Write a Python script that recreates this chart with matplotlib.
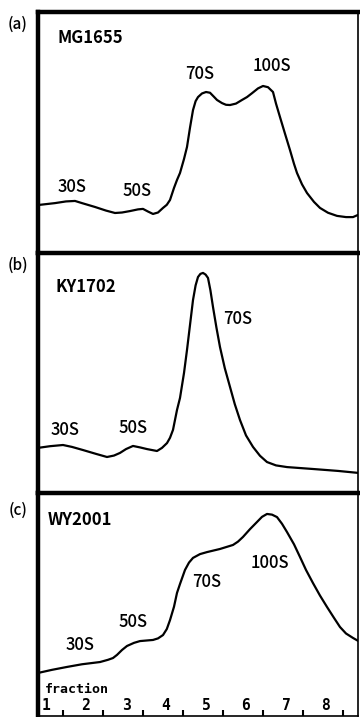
import matplotlib
matplotlib.use('Agg')
import matplotlib.pyplot as plt

# x: position along the gradient in fraction units, y: relative absorbance
a_x = [0.0, 0.425, 0.7, 0.925, 1.1, 1.425, 1.7, 1.925, 2.1, 2.3, 2.5, 2.625, 2.75, 2.875,
       3.0, 3.125, 3.22, 3.3, 3.4, 3.475, 3.55, 3.65, 3.725, 3.8, 3.875, 3.94, 4.0, 4.1,
       4.2, 4.3, 4.4, 4.475, 4.6, 4.7, 4.8, 4.95, 5.1, 5.225, 5.35, 5.5, 5.625, 5.75,
       5.875, 5.95, 6.05, 6.175, 6.3, 6.4, 6.475, 6.6, 6.725, 6.9, 7.05, 7.25, 7.475,
       7.7, 7.875, 8.0]
a_y = [0.199, 0.207, 0.214, 0.216, 0.207, 0.191, 0.176, 0.166, 0.168, 0.174, 0.181, 0.183,
       0.172, 0.162, 0.168, 0.187, 0.200, 0.220, 0.270, 0.303, 0.332, 0.390, 0.440, 0.520,
       0.593, 0.630, 0.647, 0.662, 0.668, 0.665, 0.648, 0.635, 0.622, 0.615, 0.614, 0.620,
       0.635, 0.647, 0.663, 0.683, 0.693, 0.688, 0.668, 0.620, 0.564, 0.495, 0.427, 0.370,
       0.332, 0.285, 0.249, 0.212, 0.187, 0.167, 0.154, 0.149, 0.149, 0.158]

b_x = [0.0, 0.3, 0.625, 0.85, 1.125, 1.45, 1.725, 1.9, 2.05, 2.2, 2.375, 2.55, 2.725,
       2.975, 3.1, 3.225, 3.3, 3.375, 3.475, 3.55, 3.65, 3.725, 3.8, 3.875, 3.94, 4.0,
       4.06, 4.125, 4.19, 4.25, 4.31, 4.375, 4.46, 4.55, 4.67, 4.8, 4.92, 5.05, 5.2,
       5.375, 5.55, 5.725, 5.95, 6.225, 6.875, 7.5, 8.05]
b_y = [0.188, 0.195, 0.200, 0.192, 0.179, 0.163, 0.150, 0.156, 0.167, 0.183, 0.196, 0.190,
       0.183, 0.175, 0.188, 0.208, 0.230, 0.263, 0.346, 0.396, 0.500, 0.596, 0.700, 0.804,
       0.865, 0.900, 0.913, 0.917, 0.910, 0.896, 0.845, 0.775, 0.690, 0.608, 0.520, 0.442,
       0.370, 0.304, 0.240, 0.192, 0.155, 0.129, 0.115, 0.108, 0.100, 0.092, 0.083]

c_x = [0.0, 0.35, 0.725, 1.1, 1.55, 1.75, 1.875, 1.975, 2.1, 2.225, 2.4, 2.55, 2.875, 3.0,
       3.125, 3.22, 3.3, 3.4, 3.475, 3.55, 3.675, 3.775, 3.875, 4.05, 4.225, 4.55, 4.875,
       5.0, 5.125, 5.3, 5.475, 5.6, 5.725, 5.85, 5.975, 6.1, 6.225, 6.4, 6.55, 6.7,
       6.875, 7.05, 7.225, 7.4, 7.55, 7.7, 7.875, 8.05]
c_y = [0.193, 0.207, 0.220, 0.232, 0.242, 0.252, 0.260, 0.274, 0.296, 0.314, 0.328, 0.336,
       0.341, 0.348, 0.363, 0.390, 0.430, 0.490, 0.552, 0.592, 0.655, 0.688, 0.709, 0.726,
       0.735, 0.749, 0.767, 0.782, 0.803, 0.838, 0.870, 0.893, 0.906, 0.903, 0.892, 0.862,
       0.825, 0.770, 0.713, 0.655, 0.596, 0.540, 0.489, 0.440, 0.399, 0.370, 0.350, 0.332]

strains = ['MG1655', 'KY1702', 'WY2001']
panel_tags = ['(a)', '(b)', '(c)']
fractions = ['1', '2', '3', '4', '5', '6', '7', '8']

# peak labels: (text, x, y)
peaks_a = [('30S', 0.85, 0.274), ('50S', 2.475, 0.257), ('70S', 4.05, 0.743), ('100S', 5.85, 0.776)]
peaks_b = [('30S', 0.675, 0.262), ('50S', 2.375, 0.271), ('70S', 5.0, 0.725)]
peaks_c = [('30S', 1.05, 0.318), ('50S', 2.375, 0.422), ('70S', 4.225, 0.601), ('100S', 5.8, 0.686)]

gothic = ['Noto Sans CJK JP', 'DejaVu Sans']

fig = plt.figure(figsize=(3.6, 7.17), dpi=100)

left, width = 38 / 360, 320 / 360
# top and bottom pixel rows of each panel
rows = [(12, 253), (253, 493), (493, 716)]
strain_pos = [(0.06, 0.892), (0.055, 0.858), (0.03, 0.879)]
tag_rows = [24, 265, 510]

series = [(a_x, a_y, peaks_a), (b_x, b_y, peaks_b), (c_x, c_y, peaks_c)]

for i, ((top, bot), (xs, ys, peaks)) in enumerate(zip(rows, series)):
    ax = fig.add_axes([left, 1 - bot / 717, width, (bot - top) / 717])
    ax.plot(xs, ys, color='black', lw=1.6, solid_capstyle='round', solid_joinstyle='round')
    ax.set_xlim(0, 8)
    ax.set_ylim(0, 1)
    ax.set_yticks([])
    for s in ['left', 'top']:
        ax.spines[s].set_linewidth(3.2)
    ax.spines['right'].set_linewidth(1.2)
    ax.spines['bottom'].set_linewidth(1.2)
    if i < 2:
        ax.spines['bottom'].set_visible(False)
        ax.set_xticks([])
    else:
        ax.set_xticks([0.625 + k for k in range(8)])
        ax.set_xticklabels([])
        ax.tick_params(axis='x', direction='in', length=4, width=1.5)
        for k, lab in enumerate(fractions):
            ax.text(k + 0.2, 0.047, lab, ha='center', va='center',
                    fontsize=10.5, fontweight='bold', family='DejaVu Sans Mono')
        ax.text(0.175, 0.117, 'fraction', ha='left', va='center',
                fontsize=9.5, fontweight='bold', family='DejaVu Sans Mono')
    for lab, px, py in peaks:
        ax.text(px, py, lab, ha='center', va='center', fontsize=12,
                fontweight='medium', family=gothic)
    sx, sy = strain_pos[i]
    ax.text(sx, sy, strains[i], transform=ax.transAxes, ha='left', va='center',
            fontsize=12, fontweight='bold', family=gothic)
    fig.text(18 / 360, 1 - tag_rows[i] / 717, panel_tags[i], ha='center', va='center',
             fontsize=11, fontweight='medium', family=gothic)

fig.savefig('out.png', dpi=100)
